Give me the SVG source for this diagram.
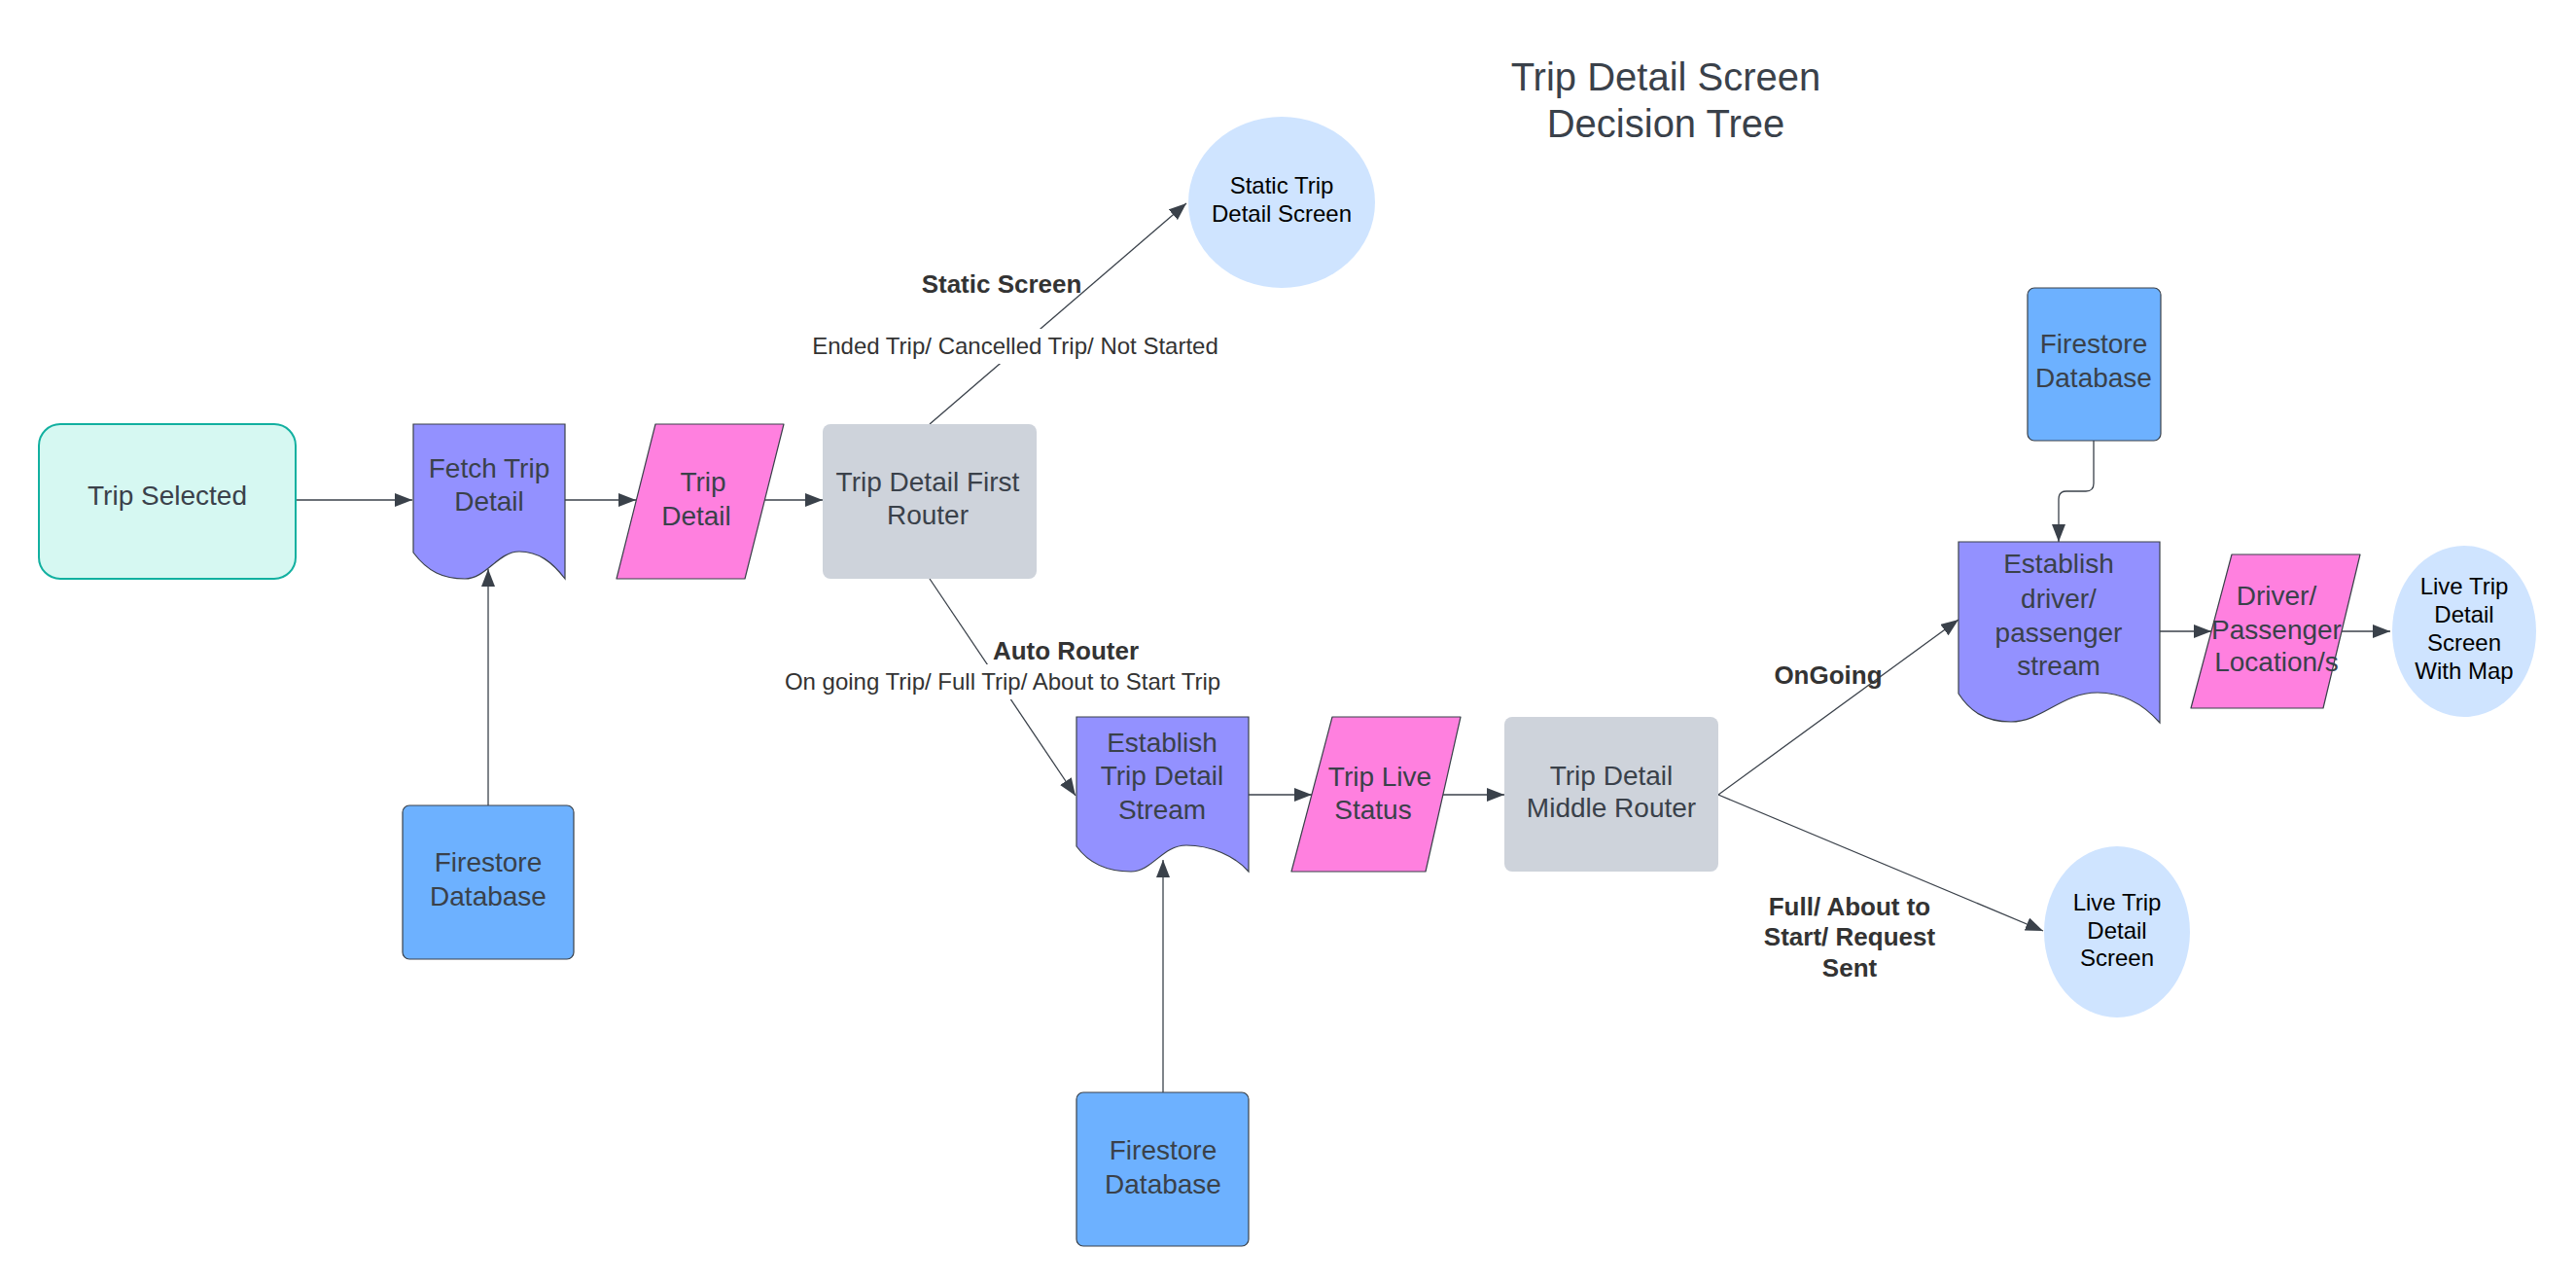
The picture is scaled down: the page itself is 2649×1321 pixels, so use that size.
<svg xmlns="http://www.w3.org/2000/svg" width="2649" height="1321" viewBox="0 0 2649 1321">
<defs>
<marker id="arr" markerUnits="userSpaceOnUse" markerWidth="20" markerHeight="14" refX="18" refY="7" orient="auto">
<path d="M0,0 L18,7 L0,14 z" fill="#3a414a"/>
</marker>
<style>
.t{font-family:"Liberation Sans",Arial,sans-serif;font-size:28px;fill:#3a414a;text-anchor:middle}
.e{font-family:"Liberation Sans",Arial,sans-serif;font-size:24px;fill:#000;text-anchor:middle}
.lb{font-family:"Liberation Sans",Arial,sans-serif;font-size:26px;font-weight:bold;fill:#333;text-anchor:middle}
.lr{font-family:"Liberation Sans",Arial,sans-serif;font-size:24px;fill:#333;text-anchor:middle}
.title{font-family:"Liberation Sans",Arial,sans-serif;font-size:40px;fill:#3a414a;text-anchor:middle}
.doc{fill:#9391ff;stroke:#3a414a;stroke-width:1.2}
.par{fill:#ff80df;stroke:#3a414a;stroke-width:1.2;stroke-linejoin:round}
.db{fill:#6db1ff;stroke:#3a414a;stroke-width:1.2}
.rt{fill:#ced3db}
.scr{fill:#cfe4ff}
.c{fill:none;stroke:#3a414a;stroke-width:1.3}
</style>
</defs>
<rect width="2649" height="1321" fill="#fff"/>

<g id="title">
<text class="title" x="1713" y="93">Trip Detail Screen</text>
<text class="title" x="1713" y="141">Decision Tree</text>
</g>

<g id="connectors">
<path class="c" d="M304,514 H424" marker-end="url(#arr)"/>
<path class="c" d="M581,514 H654" marker-end="url(#arr)"/>
<path class="c" d="M786,514 H846" marker-end="url(#arr)"/>
<path class="c" d="M502,828 V585" marker-end="url(#arr)"/>
<path class="c" d="M956,436 L1220,209" marker-end="url(#arr)"/>
<path class="c" d="M956,595 L1106,818" marker-end="url(#arr)"/>
<path class="c" d="M1196,1123 V884" marker-end="url(#arr)"/>
<path class="c" d="M1284,817 H1349" marker-end="url(#arr)"/>
<path class="c" d="M1481,817 H1547" marker-end="url(#arr)"/>
<path class="c" d="M1767,817 L2014,637" marker-end="url(#arr)"/>
<path class="c" d="M1767,817 L2101,957" marker-end="url(#arr)"/>
<path class="c" d="M2153,453 V497 Q2153,505 2145,505 H2125 Q2117,505 2117,513 V557" marker-end="url(#arr)"/>
<path class="c" d="M2221,649 H2274" marker-end="url(#arr)"/>
<path class="c" d="M2406,649 H2458" marker-end="url(#arr)"/>
<text class="lb" x="1030" y="301">Static Screen</text>
<rect x="826" y="338" width="436" height="36" fill="#fff"/>
<text class="lr" x="1044" y="364">Ended Trip/ Cancelled Trip/ Not Started</text>
<text class="lb" x="1096" y="678">Auto Router</text>
<rect x="797" y="683" width="468" height="36" fill="#fff"/>
<text class="lr" x="1031" y="709">On going Trip/ Full Trip/ About to Start Trip</text>
<text class="lb" x="1880" y="703">OnGoing</text>
<text class="lb" x="1902" y="941">Full/ About to</text>
<text class="lb" x="1902" y="972">Start/ Request</text>
<text class="lb" x="1902" y="1004">Sent</text>
</g>

<g id="trip-selected">
<rect x="40" y="436" width="264" height="159" rx="22" fill="#d6f8f2" stroke="#12b0a0" stroke-width="2"/>
<text class="t" x="172" y="519">Trip Selected</text>
</g>

<g id="fetch-trip-detail">
<path class="doc" d="M425,436 H581 V595 C568,578 554,567 534,567 C512,567 500,595 478,595 C456,595 440,588 425,568 Z"/>
<text class="t" x="503" y="491">Fetch Trip</text>
<text class="t" x="503" y="525">Detail</text>
</g>

<g id="trip-detail">
<path class="par" d="M674,436 H806 L766,595 H634 Z"/>
<text class="t" x="723" y="505">Trip</text>
<text class="t" x="716" y="540">Detail</text>
</g>

<g id="firestore-1">
<rect class="db" x="414" y="828" width="176" height="158" rx="7"/>
<text class="t" x="502" y="896">Firestore</text>
<text class="t" x="502" y="931">Database</text>
</g>

<g id="first-router">
<rect class="rt" x="846" y="436" width="220" height="159" rx="8"/>
<text class="t" x="954" y="505">Trip Detail First</text>
<text class="t" x="954" y="539">Router</text>
</g>

<g id="static-screen">
<ellipse class="scr" cx="1318" cy="208" rx="96" ry="88"/>
<text class="e" x="1318" y="199">Static Trip</text>
<text class="e" x="1318" y="228">Detail Screen</text>
</g>

<g id="establish-trip-stream">
<path class="doc" d="M1107,737 H1284 V896 C1270,880 1245,869 1220,869 C1195,869 1185,896 1163,896 C1140,896 1120,888 1107,870 Z"/>
<text class="t" x="1195" y="773">Establish</text>
<text class="t" x="1195" y="807">Trip Detail</text>
<text class="t" x="1195" y="842">Stream</text>
</g>

<g id="firestore-2">
<rect class="db" x="1107" y="1123" width="177" height="158" rx="7"/>
<text class="t" x="1196" y="1192">Firestore</text>
<text class="t" x="1196" y="1227">Database</text>
</g>

<g id="trip-live-status">
<path class="par" d="M1370,737 H1502 L1466,896 H1328 Z"/>
<text class="t" x="1419" y="808">Trip Live</text>
<text class="t" x="1412" y="842">Status</text>
</g>

<g id="middle-router">
<rect class="rt" x="1547" y="737" width="220" height="159" rx="8"/>
<text class="t" x="1657" y="807">Trip Detail</text>
<text class="t" x="1657" y="840">Middle Router</text>
</g>

<g id="firestore-3">
<rect class="db" x="2085" y="296" width="137" height="157" rx="7"/>
<text class="t" x="2153" y="363">Firestore</text>
<text class="t" x="2153" y="398">Database</text>
</g>

<g id="establish-driver-stream">
<path class="doc" d="M2014,557 H2221 V743 C2205,725 2185,712 2157,712 C2120,712 2100,742 2068,742 C2040,742 2025,730 2014,713 Z"/>
<text class="t" x="2117" y="589">Establish</text>
<text class="t" x="2117" y="625">driver/</text>
<text class="t" x="2117" y="660">passenger</text>
<text class="t" x="2117" y="694">stream</text>
</g>

<g id="driver-passenger-location">
<path class="par" d="M2295,570 H2427 L2389,728 H2253 Z"/>
<text class="t" x="2341" y="622">Driver/</text>
<text class="t" x="2341" y="657">Passenger</text>
<text class="t" x="2341" y="690">Location/s</text>
</g>

<g id="live-map-screen">
<ellipse class="scr" cx="2534" cy="649" rx="74" ry="88"/>
<text class="e" x="2534" y="611">Live Trip</text>
<text class="e" x="2534" y="640">Detail</text>
<text class="e" x="2534" y="669">Screen</text>
<text class="e" x="2534" y="698">With Map</text>
</g>

<g id="live-screen">
<ellipse class="scr" cx="2177" cy="958" rx="75" ry="88"/>
<text class="e" x="2177" y="936">Live Trip</text>
<text class="e" x="2177" y="965">Detail</text>
<text class="e" x="2177" y="993">Screen</text>
</g>
</svg>
